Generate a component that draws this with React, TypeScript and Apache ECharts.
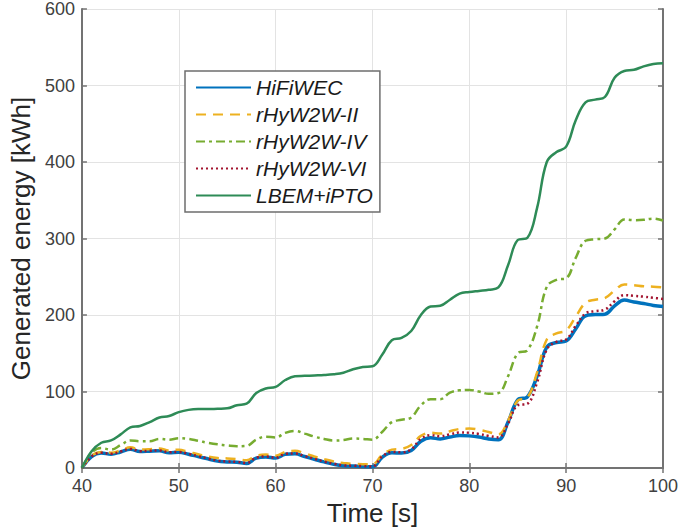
import React, { useEffect, useRef } from "react";
import * as echarts from "echarts";

const time = [
  40, 41, 42, 43, 44, 45, 46, 47, 48, 49, 50, 51, 52, 53, 54, 55, 56, 57, 58, 59,
  60, 61, 62, 63, 64, 65, 66, 67, 68, 69, 70, 71, 72, 73, 74, 75, 76, 77, 78, 79,
  80, 81, 82, 83, 84, 85, 86, 87, 88, 89, 90, 91, 92, 93, 94, 95, 96, 97, 98, 99, 100,
];

const hifiwec = [
  0, 15, 19.5, 18, 21, 24.5, 21.5, 22, 22.5, 20, 20.5, 18, 15, 12, 9, 8, 7.5, 6, 13, 14.5,
  13, 18, 18.5, 15, 11.5, 8, 5, 3, 2.5, 2, 1.5, 14, 20, 19.5, 23, 35, 39.5, 38, 40.5, 42.5,
  42, 40.5, 38, 37, 60, 89, 93, 120, 158, 164, 166, 182, 199, 200.5, 201, 212, 219.5, 217, 215, 212.5, 211,
];

const rhyII = [
  0, 16, 21, 20, 23, 27, 24, 24.5, 25.5, 23, 24, 21, 18, 15, 13, 12.5, 11.5, 10, 16, 17.5,
  16, 21, 22.5, 19, 15, 11.5, 8.5, 6.5, 5.5, 5, 5, 17, 24, 25, 30, 42, 46, 45, 48, 51,
  51.5, 50, 47, 44, 62, 88, 92, 125, 168, 176, 180, 198, 216, 220, 222, 232, 240, 239, 237.5, 237, 236,
];

const rhyIV = [
  0, 20, 26, 24, 30, 36, 35, 35, 38, 37, 39, 38, 35.5, 33, 31, 29.5, 28.5, 29, 37, 41,
  40, 46, 48.5, 45, 41, 38, 36, 36.5, 38.5, 38, 37, 47, 60, 63, 66, 82, 90, 90, 98.5, 101.5,
  102, 100, 97, 98, 120, 150, 154, 185, 237, 246, 248, 275, 297, 299, 300, 312, 325, 324, 324.5, 326, 323.5,
];

const rhyVI = [
  0, 15, 20, 18.5, 21.5, 25, 22, 22.5, 23, 20.5, 21, 18.5, 15.5, 12.5, 9.5, 8.5, 8, 6.5, 13.5, 15,
  13.5, 18.5, 19, 15.5, 12, 8.5, 5.5, 3.5, 3, 2.5, 2, 15, 21, 20.5, 24.5, 38, 43, 41.5, 44, 46.5,
  46, 44.5, 42, 40, 58, 82, 84, 112, 155, 165, 168, 186, 202, 205, 207, 218, 226, 225, 224, 222.5, 221,
];

const lbem = [
  0, 22, 33, 36, 44, 53, 55, 60, 66, 68, 73, 76, 77, 77, 77.5, 78, 82, 84, 98, 104,
  106, 115, 120, 120.5, 121, 121.5, 122.5, 124.5, 129, 132, 133, 148, 167, 170, 179, 200, 211, 212, 220, 228,
  230, 231.5, 233, 236, 265, 298, 301, 340, 400, 413, 420, 455, 478, 481.5, 485, 510, 519, 520.5, 525, 528, 529,
];

const xTicks = [40, 50, 60, 70, 80, 90, 100];
const yTicks = [0, 100, 200, 300, 400, 500, 600];

const pairs = (ys: number[]) => time.map((t, i) => [t, ys[i]]);

export default function App() {
  const ref = useRef<HTMLDivElement>(null);
  useEffect(() => {
    if (!ref.current) return;
    const chart = echarts.init(ref.current, undefined, { renderer: "svg" });
    const font = "Liberation Sans, Arial, Helvetica, sans-serif";
    const axisColor = "#737373";
    const common = {
      type: "value" as const,
      axisLine: { show: true, lineStyle: { color: axisColor, width: 2 } },
      axisTick: { show: true, inside: true, length: 5, lineStyle: { color: axisColor, width: 1.5 } },
    };
    chart.setOption({
      animation: false,
      backgroundColor: "#ffffff",
      textStyle: { fontFamily: font },
      grid: { left: 80, right: 37, top: 9, bottom: 60, containLabel: false },
      legend: {
        orient: "vertical",
        left: 185,
        top: 71,
        padding: [6, 7, 6, 10],
        itemWidth: 55,
        itemHeight: 14,
        itemGap: 6,
        backgroundColor: "#ffffff",
        borderColor: "#6e6e6e",
        borderWidth: 1.5,
        itemStyle: { opacity: 0 },
        textStyle: { fontSize: 21, fontStyle: "italic", color: "#1a1a1a", fontFamily: font },
        data: ["HiFiWEC", "rHyW2W-II", "rHyW2W-IV", "rHyW2W-VI", "LBEM+iPTO"],
      },
      xAxis: [
        {
          ...common,
          min: xTicks[0],
          max: xTicks[xTicks.length - 1],
          interval: 10,
          name: "Time [s]",
          nameLocation: "middle",
          nameGap: 32,
          nameTextStyle: { fontSize: 26, color: "#262626", fontFamily: font },
          axisLabel: { fontSize: 18, color: "#404040", margin: 9, fontFamily: font },
          splitLine: { show: true, lineStyle: { color: "#e3e3e3", width: 1 } },
        },
        {
          ...common,
          position: "top",
          min: xTicks[0],
          max: xTicks[xTicks.length - 1],
          interval: 10,
          axisLabel: { show: false },
          splitLine: { show: false },
        },
      ],
      yAxis: [
        {
          ...common,
          min: yTicks[0],
          max: yTicks[yTicks.length - 1],
          interval: 100,
          name: "Generated energy [kWh]",
          nameLocation: "middle",
          nameGap: 40,
          nameTextStyle: { fontSize: 26, color: "#262626", fontFamily: font },
          axisLabel: { fontSize: 18, color: "#404040", margin: 7, fontFamily: font },
          splitLine: { show: true, lineStyle: { color: "#e3e3e3", width: 1 } },
        },
        {
          ...common,
          position: "right",
          min: yTicks[0],
          max: yTicks[yTicks.length - 1],
          interval: 100,
          axisLabel: { show: false },
          splitLine: { show: false },
        },
      ],
      series: [
        {
          name: "HiFiWEC",
          type: "line",
          data: pairs(hifiwec),
          symbol: "none",
          smooth: 0.4,
          color: "#0072BD",
          lineStyle: { color: "#0072BD", width: 3.5 },
        },
        {
          name: "rHyW2W-II",
          type: "line",
          data: pairs(rhyII),
          symbol: "none",
          smooth: 0.4,
          color: "#EDB120",
          lineStyle: { color: "#EDB120", width: 2.5, type: [10, 7] },
        },
        {
          name: "rHyW2W-IV",
          type: "line",
          data: pairs(rhyIV),
          symbol: "none",
          smooth: 0.4,
          color: "#77AC30",
          lineStyle: { color: "#77AC30", width: 2.5, type: [9, 4, 3, 4] },
        },
        {
          name: "rHyW2W-VI",
          type: "line",
          data: pairs(rhyVI),
          symbol: "none",
          smooth: 0.4,
          color: "#A2142F",
          lineStyle: { color: "#A2142F", width: 2.5, type: [2, 3] },
        },
        {
          name: "LBEM+iPTO",
          type: "line",
          data: pairs(lbem),
          symbol: "none",
          smooth: 0.4,
          color: "#2E8B57",
          lineStyle: { color: "#2E8B57", width: 2.5 },
        },
      ],
    });
    return () => chart.dispose();
  }, []);
  return <div ref={ref} style={{ width: 700, height: 531, position: "absolute", left: 0, top: 0 }} />;
}
